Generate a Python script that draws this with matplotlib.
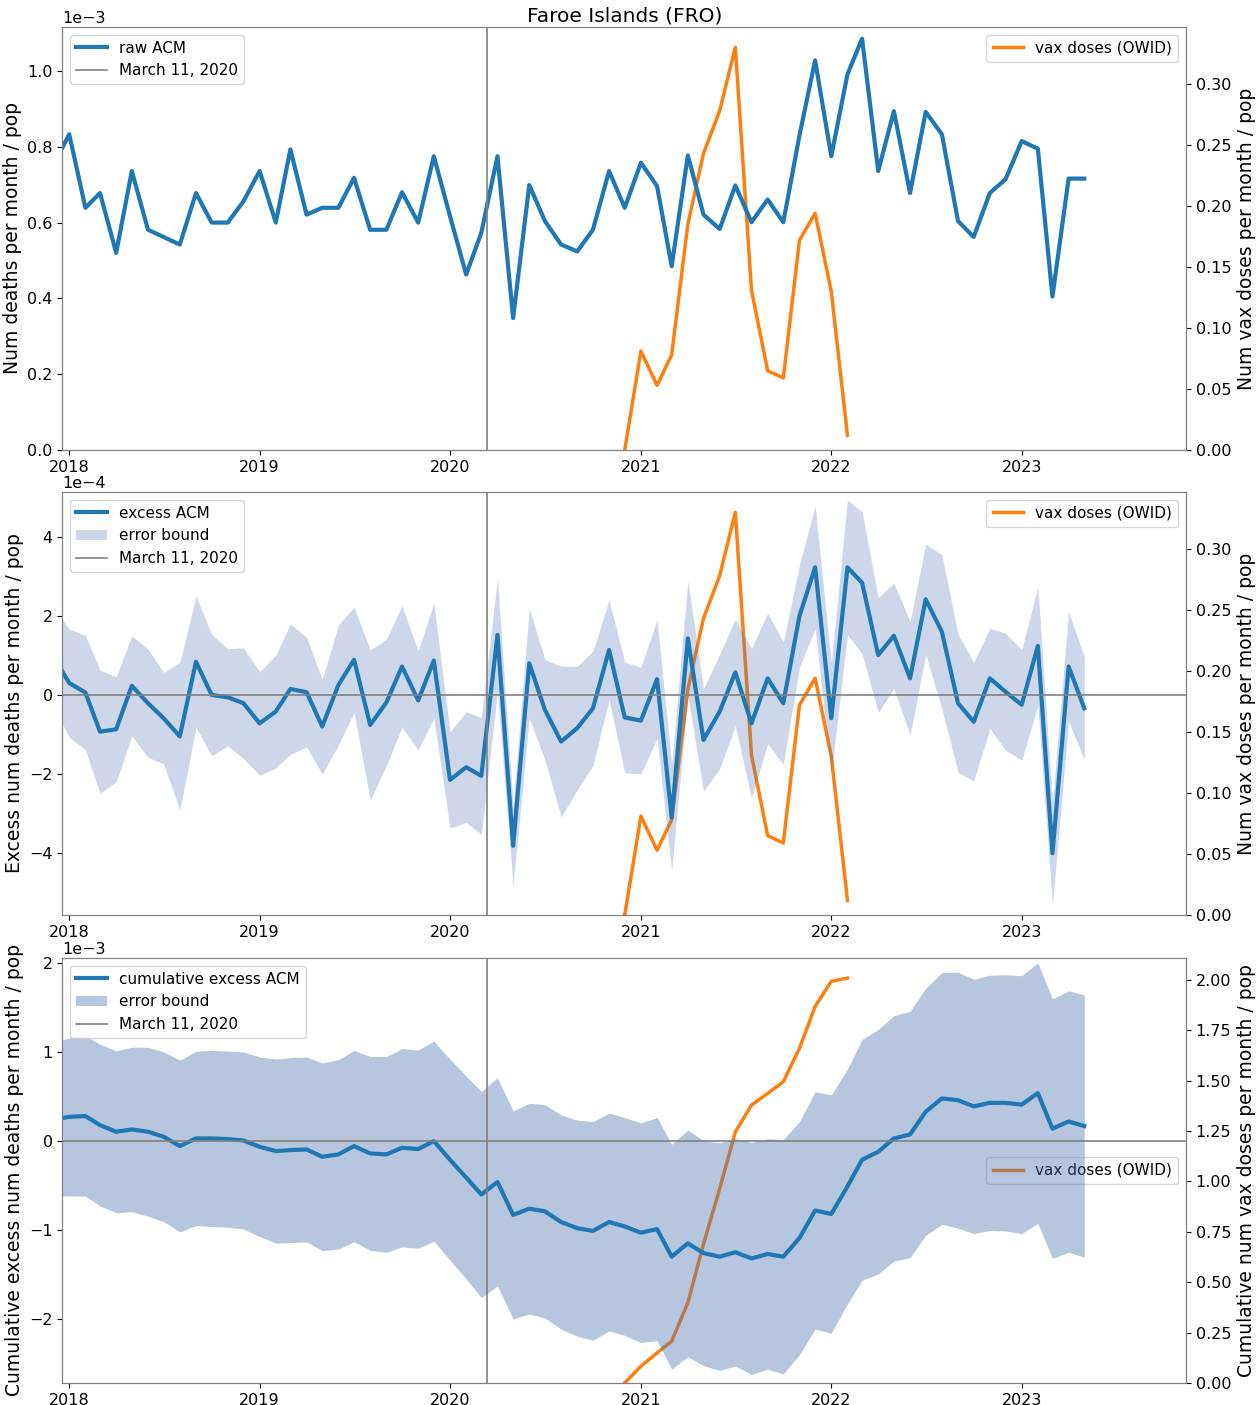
import numpy as np
import pandas as pd
import matplotlib
matplotlib.use("Agg")
import matplotlib.pyplot as plt
import matplotlib.dates as mdates
from matplotlib.lines import Line2D
from matplotlib.patches import Patch

# monthly values, Dec 2017 .. May 2023
months = pd.date_range("2017-12-01", "2023-05-01", freq="MS")

# raw ACM, units of 1e-3
raw_acm = [0.75,
           0.833, 0.639, 0.678, 0.52, 0.736, 0.581, 0.562, 0.542, 0.678, 0.60, 0.60, 0.656,
           0.736, 0.60, 0.793, 0.621, 0.639, 0.639, 0.718, 0.581, 0.581, 0.68, 0.60, 0.775,
           0.617, 0.463, 0.573, 0.775, 0.348, 0.699, 0.604, 0.542, 0.524, 0.581, 0.736, 0.639,
           0.758, 0.696, 0.485, 0.777, 0.621, 0.583, 0.698, 0.601, 0.661, 0.601, 0.83, 1.028,
           0.775, 0.991, 1.085, 0.736, 0.894, 0.678, 0.892, 0.833, 0.604, 0.562, 0.678, 0.714,
           0.815, 0.795, 0.405, 0.716, 0.716]

# excess ACM, units of 1e-4
excess_acm = [0.99,
              0.30, 0.06, -0.93, -0.87, 0.23, -0.21, -0.59, -1.05, 0.84, 0.0, -0.06, -0.21,
              -0.72, -0.42, 0.15, 0.07, -0.80, 0.25, 0.89, -0.76, -0.19, 0.72, -0.14, 0.87,
              -2.15, -1.83, -2.05, 1.52, -3.82, 0.80, -0.38, -1.18, -0.84, -0.34, 1.14, -0.57,
              -0.65, 0.40, -3.10, 1.43, -1.14, -0.42, 0.57, -0.72, 0.42, -0.21, 2.0, 3.23,
              -0.59, 3.23, 2.84, 1.01, 1.50, 0.42, 2.42, 1.60, -0.21, -0.68, 0.42, 0.08,
              -0.25, 1.24, -4.01, 0.72, -0.34]

# half width of the excess error bound, units of 1e-4
excess_err = [1.27,
              1.37, 1.45, 1.56, 1.33, 1.27, 1.37, 1.16, 1.87, 1.66, 1.54, 1.23, 1.40,
              1.31, 1.43, 1.65, 1.39, 1.20, 1.52, 1.33, 1.90, 1.60, 1.54, 1.25, 1.46,
              1.22, 1.40, 1.48, 1.43, 1.00, 1.39, 1.27, 1.91, 1.56, 1.45, 1.26, 1.40,
              1.35, 1.50, 1.35, 1.45, 1.30, 1.45, 1.35, 1.90, 1.65, 1.55, 1.30, 1.55,
              1.40, 1.70, 1.80, 1.45, 1.33, 1.44, 1.40, 1.95, 1.75, 1.50, 1.27, 1.48,
              1.40, 1.50, 1.30, 1.39, 1.30]

# cumulative excess ACM, units of 1e-3
cum_excess = [0.24,
              0.273, 0.281, 0.18, 0.105, 0.131, 0.105, 0.049, -0.056, 0.030, 0.030, 0.022, 0.007,
              -0.064, -0.112, -0.101, -0.094, -0.176, -0.150, -0.056, -0.139, -0.150, -0.075, -0.090, 0.0,
              -0.21, -0.41, -0.60, -0.46, -0.83, -0.76, -0.79, -0.91, -0.98, -1.01, -0.91, -0.96,
              -1.03, -0.99, -1.30, -1.15, -1.26, -1.30, -1.25, -1.32, -1.27, -1.30, -1.09, -0.78,
              -0.82, -0.51, -0.21, -0.12, 0.03, 0.075, 0.33, 0.48, 0.46, 0.39, 0.43, 0.43,
              0.41, 0.54, 0.14, 0.22, 0.17]

# half width of the cumulative error bound, units of 1e-3
cum_err = [0.86,
           0.89, 0.90, 0.91, 0.91, 0.925, 0.95, 0.955, 0.965, 0.98, 0.99, 0.99, 0.995,
           1.01, 1.035, 1.04, 1.04, 1.055, 1.065, 1.075, 1.09, 1.10, 1.115, 1.115, 1.125,
           1.13, 1.14, 1.16, 1.17, 1.17, 1.185, 1.20, 1.205, 1.215, 1.23, 1.225, 1.225,
           1.235, 1.255, 1.265, 1.275, 1.265, 1.28, 1.28, 1.305, 1.295, 1.32, 1.31, 1.335,
           1.34, 1.32, 1.355, 1.375, 1.38, 1.385, 1.39, 1.415, 1.44, 1.43, 1.435, 1.44,
           1.45, 1.465, 1.46, 1.47, 1.475]

# vaccination (OWID), Dec 2020 .. Feb 2022
vax_months = pd.date_range("2020-12-01", "2022-02-01", freq="MS")
vax_doses = [0.0, 0.081, 0.053, 0.078, 0.185, 0.243, 0.278, 0.330, 0.131, 0.065,
             0.059, 0.172, 0.194, 0.130, 0.012]
vax_cum = [0.0, 0.083, 0.149, 0.207, 0.398, 0.689, 0.963, 1.245, 1.378, 1.436,
           1.494, 1.66, 1.867, 1.992, 2.008]

pandemic_start = pd.Timestamp("2020-03-11")
x_range = (pd.Timestamp("2017-12-19"), pd.Timestamp("2023-11-12"))

BLUE = "#1f77b4"
ORANGE = "#ff7f0e"
BAND = "#4c72b0"
GRID = "gray"

plt.rcParams["font.family"] = "DejaVu Sans"
plt.rcParams["xtick.labelsize"] = 11.5
plt.rcParams["ytick.labelsize"] = 11.5

fig = plt.figure(figsize=(12.59, 14.05), dpi=100)
positions = [[0.0496, 0.6797, 0.8924, 0.3011],
             [0.0496, 0.3488, 0.8924, 0.3011],
             [0.0496, 0.0157, 0.8924, 0.3025]]


def style_axes(ax, ax2):
    for a in (ax, ax2):
        for s in a.spines.values():
            s.set_color(GRID)
    ax.set_xlim(*x_range)
    ax.xaxis.set_major_locator(mdates.YearLocator())
    ax.xaxis.set_major_formatter(mdates.DateFormatter("%Y"))
    ax.ticklabel_format(axis="y", style="sci", scilimits=(0, 0))
    ax.yaxis.get_offset_text().set_fontsize(11.5)
    # keep the ACM axes above the vaccination axes
    ax.set_zorder(ax2.get_zorder() + 1)
    ax.patch.set_visible(False)


# ---- panel 1: raw ACM
ax = fig.add_axes(positions[0])
ax2 = ax.twinx()
ax.plot(months, np.array(raw_acm) * 1e-3, color=BLUE, lw=3, label="raw ACM")
ax.axvline(pandemic_start, color=GRID, lw=1.2, label="March 11, 2020")
ax2.plot(vax_months, vax_doses, color=ORANGE, lw=2.5, label="vax doses (OWID)")
style_axes(ax, ax2)
ax.set_ylim(0, 1.116e-3)
ax2.set_ylim(0, 0.3467)
ax.set_ylabel("Num deaths per month / pop", fontsize=13.5)
ax2.set_ylabel("Num vax doses per month / pop", fontsize=13.5)
ax.set_title("Faroe Islands (FRO)", fontsize=14.5, pad=4)
ax.legend(loc="upper left", fontsize=11)
ax2.legend(loc="upper right", fontsize=11)

# ---- panel 2: excess ACM
ax = fig.add_axes(positions[1])
ax2 = ax.twinx()
ex = np.array(excess_acm) * 1e-4
ee = np.array(excess_err) * 1e-4
ax.fill_between(months, ex - ee, ex + ee, color=BAND, alpha=0.28, lw=0)
ax.plot(months, ex, color=BLUE, lw=3)
ax.axhline(0, color=GRID, lw=1.2)
ax.axvline(pandemic_start, color=GRID, lw=1.2)
ax2.plot(vax_months, vax_doses, color=ORANGE, lw=2.5, label="vax doses (OWID)")
style_axes(ax, ax2)
ax.set_ylim(-5.57e-4, 5.14e-4)
ax2.set_ylim(0, 0.3467)
ax.set_ylabel("Excess num deaths per month / pop", fontsize=13.5)
ax2.set_ylabel("Num vax doses per month / pop", fontsize=13.5)
handles = [Line2D([], [], color=BLUE, lw=3),
           Patch(facecolor=BAND, alpha=0.28),
           Line2D([], [], color=GRID, lw=1.2)]
ax.legend(handles, ["excess ACM", "error bound", "March 11, 2020"],
          loc="upper left", fontsize=11)
ax2.legend(loc="upper right", fontsize=11)

# ---- panel 3: cumulative excess ACM
ax = fig.add_axes(positions[2])
ax2 = ax.twinx()
cx = np.array(cum_excess) * 1e-3
ce = np.array(cum_err) * 1e-3
ax.fill_between(months, cx - ce, cx + ce, color=BAND, alpha=0.4, lw=0)
ax.plot(months, cx, color=BLUE, lw=3)
ax.axhline(0, color=GRID, lw=1.2)
ax.axvline(pandemic_start, color=GRID, lw=1.2)
ax2.plot(vax_months, vax_cum, color=ORANGE, lw=2.5, label="vax doses (OWID)")
style_axes(ax, ax2)
ax.set_ylim(-2.72e-3, 2.06e-3)
ax2.set_ylim(0, 2.108)
ax2.set_yticks(np.arange(0, 2.01, 0.25))
ax.set_ylabel("Cumulative excess num deaths per month / pop", fontsize=13.5)
ax2.set_ylabel("Cumulative num vax doses per month / pop", fontsize=13.5)
handles = [Line2D([], [], color=BLUE, lw=3),
           Patch(facecolor=BAND, alpha=0.4),
           Line2D([], [], color=GRID, lw=1.2)]
ax.legend(handles, ["cumulative excess ACM", "error bound", "March 11, 2020"],
          loc="upper left", fontsize=11)
ax2.legend(loc="center right", fontsize=11)

fig.savefig("out.png", dpi=100)
